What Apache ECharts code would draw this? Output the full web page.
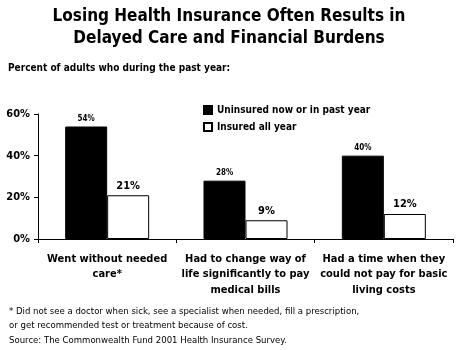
<!DOCTYPE html>
<html>
<head>
<meta charset="utf-8">
<script src="https://cdn.jsdelivr.net/npm/echarts@6/dist/echarts.min.js"></script>
<style>
  html, body { margin: 0; padding: 0; background: #fff; }
  #chart { width: 458px; height: 350px; }
</style>
</head>
<body>
<div id="chart"></div>
<script>
var categories = [
    'Went without needed\ncare*',
    'Had to change way of\nlife significantly to pay\nmedical bills',
    'Had a time when they\ncould not pay for basic\nliving costs'
];
var uninsured = [54, 28, 40];
var insured = [21, 9, 12];
var yTicks = [0, 20, 40, 60];

var chart = echarts.init(document.getElementById('chart'));

var option = {
    animation: false,
    textStyle: { fontFamily: 'DejaVu Sans Condensed', color: '#000' },
    title: [{
        text: 'Losing Health Insurance Often Results in\nDelayed Care and Financial Burdens',
        left: 'center',
        top: 1,
        textStyle: { fontSize: 17, fontWeight: 'bold', lineHeight: 22, color: '#000', fontFamily: 'DejaVu Sans Condensed' }
    }, {
        text: 'Percent of adults who during the past year:',
        left: 3,
        top: 58,
        textStyle: { fontSize: 10, fontWeight: 'bold', color: '#000', fontFamily: 'DejaVu Sans Condensed' }
    }, {
        text: '* Did not see a doctor when sick, see a specialist when needed, fill a prescription,\nor get recommended test or treatment because of cost.',
        left: 4,
        top: 300,
        textStyle: { fontSize: 9.5, fontWeight: 'normal', lineHeight: 14, color: '#000', fontFamily: 'DejaVu Sans Condensed' }
    }, {
        text: 'Source: The Commonwealth Fund 2001 Health Insurance Survey.',
        left: 4,
        top: 331,
        textStyle: { fontSize: 9.5, fontWeight: 'normal', color: '#000', fontFamily: 'DejaVu Sans Condensed' }
    }],
    legend: {
        orient: 'vertical',
        left: 198,
        top: 100,
        itemWidth: 8,
        itemHeight: 8,
        itemGap: 7,
        icon: 'rect',
        textStyle: { fontSize: 10, fontWeight: 'bold', color: '#000', fontFamily: 'DejaVu Sans Condensed' },
        data: ['Uninsured now or in past year', 'Insured all year']
    },
    grid: { left: 38, right: 5, top: 114, bottom: 111 },
    xAxis: {
        type: 'category',
        data: categories,
        axisLine: { lineStyle: { color: '#000', width: 1 } },
        axisTick: { show: true, length: 4, lineStyle: { color: '#000' } },
        axisLabel: { fontSize: 11, fontWeight: 'bold', color: '#000', lineHeight: 15.5, margin: 12, interval: 0 }
    },
    yAxis: {
        type: 'value',
        min: 0,
        max: 60,
        interval: 20,
        axisLine: { show: true, lineStyle: { color: '#000', width: 1 } },
        axisTick: { show: true, length: 4, lineStyle: { color: '#000' } },
        splitLine: { show: false },
        axisLabel: {
            fontSize: 11, fontWeight: 'bold', color: '#000', margin: 8,
            formatter: function (v) { return yTicks.indexOf(v) >= 0 ? v + '%' : ''; }
        }
    },
    series: [{
        name: 'Uninsured now or in past year',
        type: 'bar',
        data: uninsured,
        barWidth: 42,
        barGap: '0%',
        itemStyle: { color: '#000', borderColor: '#000', borderWidth: 1 },
        label: { show: true, position: 'top', distance: 4, formatter: '{c}%', fontSize: 8, fontWeight: 'bold', color: '#000' }
    }, {
        name: 'Insured all year',
        type: 'bar',
        data: insured,
        barWidth: 42,
        barGap: '0%',
        itemStyle: { color: '#fff', borderColor: '#000', borderWidth: 1 },
        label: { show: true, position: 'top', distance: 4, formatter: '{c}%', fontSize: 11, fontWeight: 'bold', color: '#000' }
    }]
};

chart.setOption(option);
</script>
</body>
</html>
